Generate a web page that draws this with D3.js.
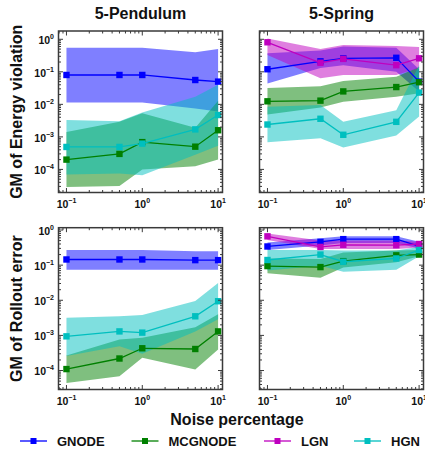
<!DOCTYPE html>
<html>
<head>
<meta charset="utf-8">
<script src="https://cdn.jsdelivr.net/npm/d3@7"></script>
<style>
  html, body { margin: 0; padding: 0; background: #fff; }
  svg { display: block; font-family: "Liberation Sans", Arial, sans-serif; font-weight: bold; }
</style>
</head>
<body>
<svg id="chart" width="425" height="449"></svg>
<script>
// Noise levels (percent) on the x axis
const noise = [0.1, 0.5, 1, 5, 10];

// Each entry: [lower bound, geometric mean, upper bound] at each noise level
const pendEnergyGNODE   = [[0.0115, 0.08, 0.55], [0.0115, 0.08, 0.55], [0.0115, 0.08, 0.55], [0.0075, 0.056, 0.4], [0.006, 0.05, 0.5]];
const pendEnergyMCGNODE = [[2.9e-5, 2.0e-4, 1.4e-3], [3.1e-5, 3.0e-4, 2.9e-3], [1.0e-4, 6.9e-4, 5.3e-3], [1.26e-4, 5.0e-4, 1.9e-3], [2.0e-4, 1.6e-3, 0.013]];
const pendEnergyHGN     = [[7e-5, 4.9e-4, 3.3e-3], [7.5e-5, 4.9e-4, 3.0e-3], [6.6e-5, 6.2e-4, 5.6e-3], [2.8e-4, 1.7e-3, 0.017], [5.3e-4, 4.7e-3, 0.04]];

const springEnergyGNODE   = [[0.044, 0.12, 0.37], [0.13, 0.21, 0.45], [0.16, 0.26, 0.6], [0.1, 0.27, 0.55], [0.025, 0.05, 0.12]];
const springEnergyMCGNODE = [[0.0049, 0.0124, 0.032], [0.008, 0.013, 0.036], [0.012, 0.025, 0.052], [0.017, 0.034, 0.071], [0.022, 0.048, 0.14]];
const springEnergyLGN     = [[0.33, 0.81, 1.05], [0.063, 0.19, 0.5], [0.08, 0.25, 0.67], [0.08, 0.16, 0.62], [0.13, 0.26, 0.58]];
const springEnergyHGN     = [[6.8e-4, 0.0024, 0.0085], [9e-4, 0.0036, 0.0095], [4.7e-4, 0.00116, 0.0029], [1.1e-3, 0.0029, 0.0066], [4.2e-3, 0.023, 0.16]];

const pendRolloutGNODE   = [[0.074, 0.145, 0.27], [0.074, 0.145, 0.27], [0.074, 0.145, 0.27], [0.074, 0.139, 0.25], [0.074, 0.139, 0.25]];
const pendRolloutMCGNODE = [[4.4e-5, 1.1e-4, 2.7e-4], [6.9e-5, 2.2e-4, 7.7e-4], [2.3e-4, 4.3e-4, 8.6e-4], [1.07e-4, 4.1e-4, 1.7e-3], [4e-4, 1.3e-3, 4e-3]];
const pendRolloutHGN     = [[2.6e-4, 9.4e-4, 3.2e-3], [4.9e-4, 1.3e-3, 3.5e-3], [3e-4, 1.2e-3, 3.8e-3], [1.3e-3, 3.5e-3, 9.5e-3], [2.9e-3, 9.4e-3, 0.031]];

const springRolloutGNODE   = [[0.27, 0.34, 0.44], [0.36, 0.46, 0.58], [0.43, 0.55, 0.66], [0.43, 0.55, 0.66], [0.3, 0.35, 0.46]];
const springRolloutMCGNODE = [[0.059, 0.094, 0.155], [0.044, 0.088, 0.15], [0.086, 0.13, 0.23], [0.12, 0.19, 0.26], [0.18, 0.2, 0.27]];
const springRolloutLGN     = [[0.52, 0.66, 0.8], [0.29, 0.33, 0.5], [0.29, 0.38, 0.5], [0.29, 0.37, 0.5], [0.32, 0.4, 0.46]];
const springRolloutHGN     = [[0.07, 0.14, 0.27], [0.096, 0.2, 0.27], [0.065, 0.125, 0.26], [0.074, 0.155, 0.26], [0.18, 0.27, 0.33]];

const methods = ["GNODE", "MCGNODE", "LGN", "HGN"];
const methodColors = ["#0000ff", "#008000", "#bf00bf", "#00bfbf"];

const titles = ["5-Pendulum", "5-Spring"];
const rowLabels = ["GM of Energy violation", "GM of Rollout error"];
const xLabel = "Noise percentage";

// Series per panel, in method order (null = method not shown)
const panelSeries = [
  [pendEnergyGNODE, pendEnergyMCGNODE, null, pendEnergyHGN],
  [springEnergyGNODE, springEnergyMCGNODE, springEnergyLGN, springEnergyHGN],
  [pendRolloutGNODE, pendRolloutMCGNODE, null, pendRolloutHGN],
  [springRolloutGNODE, springRolloutMCGNODE, springRolloutLGN, springRolloutHGN]
];

// ---- layout ----
const svg = d3.select("#chart");
const cols = [{ x0: 58.5, x1: 222.5 }, { x0: 259.5, x1: 423.5 }];
const rows = [
  { y0: 31, y1: 192.5, yDomain: [Math.pow(10, -4.71), Math.pow(10, 0.255)] },
  { y0: 227.7, y1: 389.5, yDomain: [Math.pow(10, -4.54), Math.pow(10, 0.066)] }
];
const xDomain = [Math.pow(10, -1.105), Math.pow(10, 1.058)];
const frameColor = "#3a3a3a";

function isDecade(v) {
  const l = Math.log10(v);
  return Math.abs(l - Math.round(l)) < 1e-9;
}

function powLabel(sel, v, anchor) {
  const e = Math.round(Math.log10(v));
  sel.attr("text-anchor", anchor);
  sel.append("tspan").attr("font-size", 10.5).text("10");
  sel.append("tspan").attr("font-size", 7).attr("dy", -5)
    .text(e < 0 ? "\u2212" + (-e) : String(e));
}

panelSeries.forEach((series, idx) => {
  const r = rows[Math.floor(idx / 2)];
  const c = cols[idx % 2];
  const x = d3.scaleLog().domain(xDomain).range([c.x0, c.x1]);
  const y = d3.scaleLog().domain(r.yDomain).range([r.y1, r.y0]);
  const g = svg.append("g");

  const clipId = "clip" + idx;
  g.append("clipPath").attr("id", clipId).append("rect")
    .attr("x", c.x0).attr("y", r.y0).attr("width", c.x1 - c.x0).attr("height", r.y1 - r.y0);

  const plot = g.append("g").attr("clip-path", `url(#${clipId})`);

  const area = d3.area()
    .x((d, i) => x(noise[i]))
    .y0(d => y(d[0]))
    .y1(d => y(d[2]));
  const line = d3.line()
    .x((d, i) => x(noise[i]))
    .y(d => y(d[1]));

  // shaded bands first
  series.forEach((s, m) => {
    if (!s) return;
    plot.append("path").attr("d", area(s))
      .attr("fill", methodColors[m]).attr("fill-opacity", 0.5).attr("stroke", "none");
  });
  // then mean curves with square markers
  series.forEach((s, m) => {
    if (!s) return;
    plot.append("path").attr("d", line(s))
      .attr("fill", "none").attr("stroke", methodColors[m]).attr("stroke-width", 1.3);
    plot.selectAll(null).data(s).enter().append("rect")
      .attr("x", (d, i) => x(noise[i]) - 3.2)
      .attr("y", d => y(d[1]) - 3.2)
      .attr("width", 6.4).attr("height", 6.4)
      .attr("fill", methodColors[m]);
  });

  // ticks (inward on all four sides)
  const xt = x.ticks();
  const yt = y.ticks();
  const tk = g.append("g").attr("stroke", frameColor).attr("stroke-width", 1);
  xt.forEach(v => {
    const len = isDecade(v) ? 4.5 : 2.5;
    const px = x(v);
    tk.append("line").attr("x1", px).attr("x2", px).attr("y1", r.y1).attr("y2", r.y1 - len);
    tk.append("line").attr("x1", px).attr("x2", px).attr("y1", r.y0).attr("y2", r.y0 + len);
  });
  yt.forEach(v => {
    const len = isDecade(v) ? 4.5 : 2.5;
    const py = y(v);
    tk.append("line").attr("x1", c.x0).attr("x2", c.x0 + len).attr("y1", py).attr("y2", py);
    tk.append("line").attr("x1", c.x1).attr("x2", c.x1 - len).attr("y1", py).attr("y2", py);
  });

  // frame
  g.append("rect").attr("x", c.x0).attr("y", r.y0)
    .attr("width", c.x1 - c.x0).attr("height", r.y1 - r.y0)
    .attr("fill", "none").attr("stroke", frameColor).attr("stroke-width", 1.5);

  // x tick labels
  xt.filter(isDecade).forEach(v => {
    g.append("text").attr("x", x(v)).attr("y", r.y1 + 15.5).attr("fill", "#111")
      .call(powLabel, v, "middle");
  });
  // y tick labels on the left column only
  if (idx % 2 === 0) {
    yt.filter(isDecade).forEach(v => {
      g.append("text").attr("x", c.x0 - 4.5).attr("y", y(v) + 4.8).attr("fill", "#111")
        .call(powLabel, v, "end");
    });
  }
});

// column titles
titles.forEach((t, i) => {
  svg.append("text").attr("x", (cols[i].x0 + cols[i].x1) / 2).attr("y", 19)
    .attr("text-anchor", "middle").attr("font-size", 16).attr("fill", "#111").text(t);
});

// row labels
rowLabels.forEach((t, i) => {
  const cy = (rows[i].y0 + rows[i].y1) / 2;
  svg.append("text").attr("transform", `translate(22,${cy}) rotate(-90)`)
    .attr("text-anchor", "middle").attr("font-size", 16).attr("fill", "#111").text(t);
});

// x axis title
svg.append("text").attr("x", 237).attr("y", 425)
  .attr("text-anchor", "middle").attr("font-size", 16).attr("fill", "#111").text(xLabel);

// legend
const legendX = [20, 131.5, 264, 354];
const legendY = 441;
methods.forEach((name, m) => {
  const lg = svg.append("g");
  const lx = legendX[m];
  lg.append("line").attr("x1", lx).attr("x2", lx + 27).attr("y1", legendY).attr("y2", legendY)
    .attr("stroke", methodColors[m]).attr("stroke-width", 1.3);
  lg.append("rect").attr("x", lx + 13.5 - 3).attr("y", legendY - 3).attr("width", 6).attr("height", 6)
    .attr("fill", methodColors[m]);
  lg.append("text").attr("x", lx + 37).attr("y", legendY + 4.5)
    .attr("font-size", 13).attr("fill", "#111").text(name);
});
</script>
</body>
</html>
